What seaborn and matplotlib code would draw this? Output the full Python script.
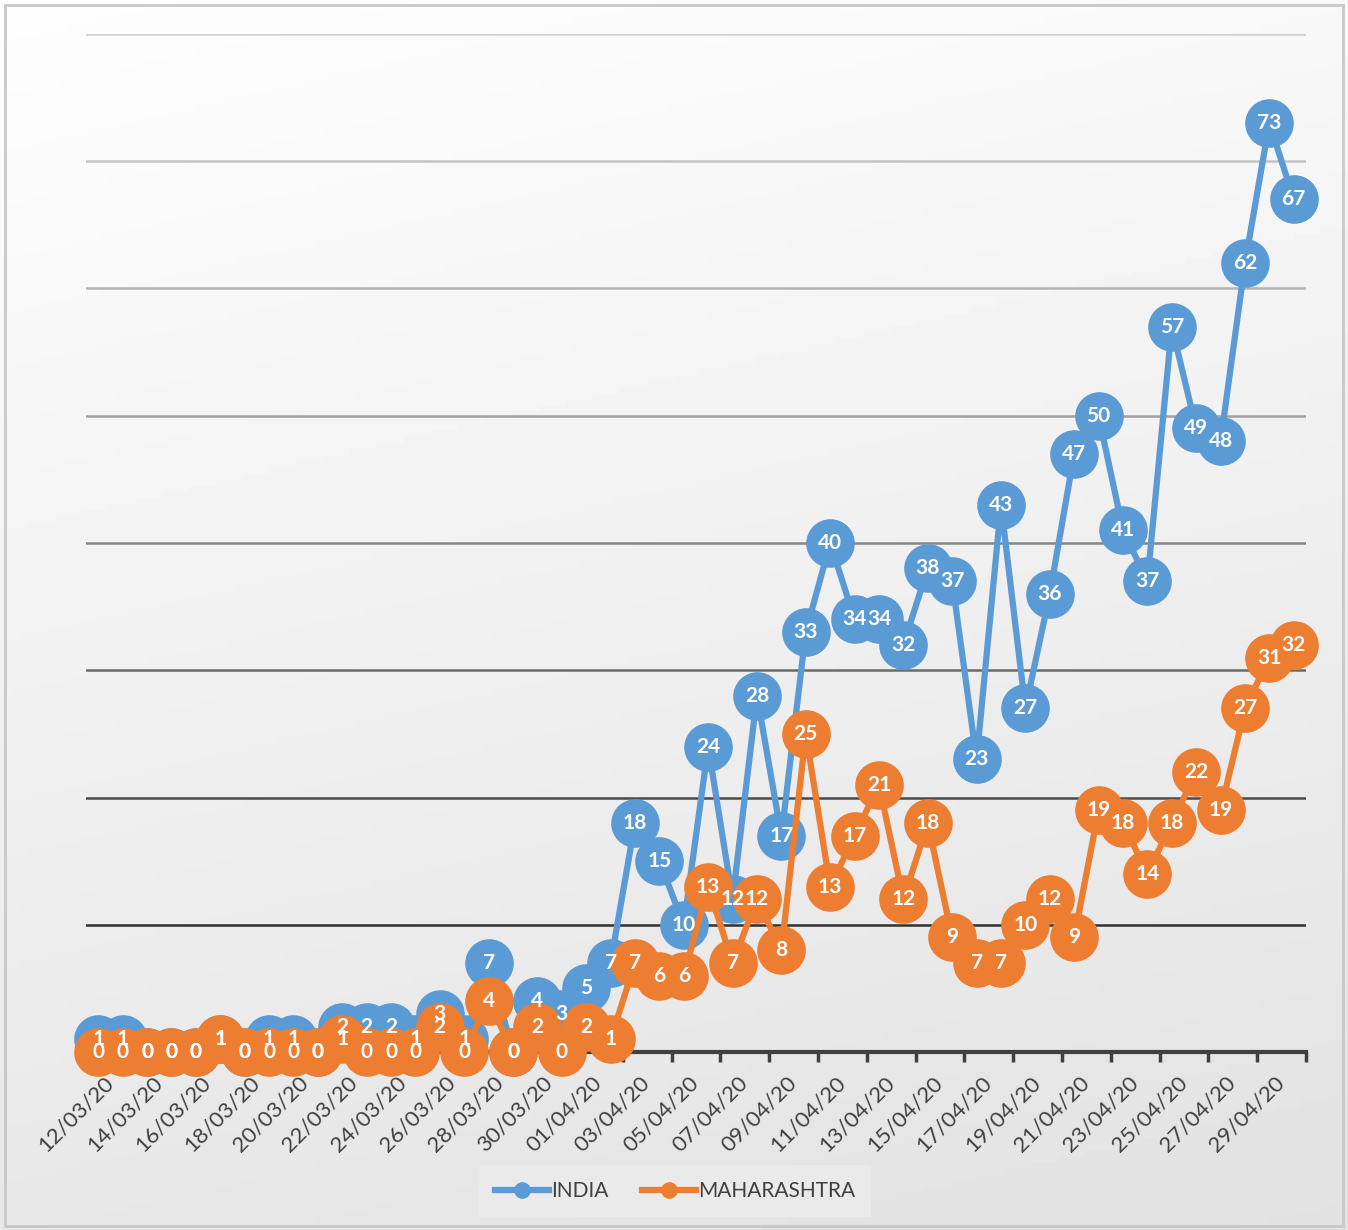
import numpy as np
import pandas as pd
import seaborn as sns
import matplotlib
matplotlib.use('Agg')
import matplotlib.pyplot as plt
from matplotlib.lines import Line2D
from matplotlib.transforms import ScaledTranslation

plt.rcParams['font.family'] = ['Lato', 'DejaVu Sans']

# --- data: daily deaths, 12/03/20 to 30/04/20 ---
dates = pd.date_range('2020-03-12', '2020-04-30').strftime('%d/%m/%y').tolist()
india = [1, 1, 0, 0, 0, 1, 0, 1, 1, 0,
         2, 2, 2, 1, 3, 1, 7, 0, 4, 3,
         5, 7, 18, 15, 10, 24, 12, 28, 17, 33,
         40, 34, 34, 32, 38, 37, 23, 43, 27, 36,
         47, 50, 41, 37, 57, 49, 48, 62, 73, 67]
maharashtra = [0, 0, 0, 0, 0, 1, 0, 0, 0, 0,
               1, 0, 0, 0, 2, 0, 4, 0, 2, 0,
               2, 1, 7, 6, 6, 13, 7, 12, 8, 25,
               13, 17, 21, 12, 18, 9, 7, 7, 10, 12,
               9, 19, 18, 14, 18, 22, 19, 27, 31, 32]
series_names = ['INDIA', 'MAHARASHTRA']
colors = ['#5b9bd5', '#ed7d31']

df = pd.DataFrame({'pos': np.arange(len(dates)), 'date': dates,
                   'INDIA': india, 'MAHARASHTRA': maharashtra})

fig = plt.figure(figsize=(13.48, 12.30), dpi=100)

# gradient background + thin border
bg = fig.add_axes([0, 0, 1, 1], zorder=-5)
yy, xx = np.mgrid[0:1:200j, 0:1:200j]
grad = 0.995 - 0.11 * (0.8 * yy + 0.2 * xx)
bg.imshow(grad, cmap='gray', vmin=0, vmax=1, aspect='auto', extent=(0, 1, 0, 1), origin='upper')
bg.add_patch(plt.Rectangle((0.004, 0.003), 0.992, 0.993, fill=False, edgecolor='#c8c8c8', lw=2))
bg.set_axis_off()

ax = fig.add_axes([86 / 1348, 1 - 1052 / 1230, 1220 / 1348, 1018 / 1230])
ax.set_facecolor('none')

# gridlines with darkening tone towards the bottom
grid_cols = ['#303030', '#4a4a4a', '#6a6a6a', '#868686', '#a0a0a0', '#b4b4b4', '#c4c4c4', '#d0d0d0']
for v, c in zip(range(10, 81, 10), grid_cols):
    ax.axhline(v, color=c, lw=1.8, zorder=0)

for name, col in zip(series_names, colors):
    sns.lineplot(data=df, x='pos', y=name, ax=ax, color=col, linewidth=4.5,
                 marker='o', markersize=35, markeredgewidth=0, clip_on=False, zorder=3)

# data labels on top
for name in series_names:
    for x, v in zip(df['pos'], df[name]):
        ax.text(x, v, str(v), ha='center', va='center', color='white',
                fontsize=15, fontweight='bold', zorder=10, clip_on=False)

ax.set_xlim(-0.5, len(dates) - 0.5)
ax.set_ylim(0, 80)
ax.set_xlabel('')
ax.set_ylabel('')
ax.set_yticks([])
for s in ['left', 'right', 'top']:
    ax.spines[s].set_visible(False)
ax.spines['bottom'].set_color('#404040')
ax.spines['bottom'].set_linewidth(3)
ax.spines['bottom'].set_zorder(1)

ax.set_xticks(np.arange(-0.5, len(dates), 2))
ax.set_xticklabels([])
ax.tick_params(axis='x', which='major', length=7, width=2.5, color='#404040', direction='out')
ax.set_xticks(np.arange(0, len(dates), 2), minor=True)
ax.set_xticklabels(dates[::2], minor=True, rotation=45, ha='right', va='center',
                   rotation_mode='anchor', fontsize=16, color='#404040')
ax.tick_params(axis='x', which='minor', length=0, pad=16)
shift = ScaledTranslation(12 / 100, -5 / 100, fig.dpi_scale_trans)
for lab in ax.get_xticklabels(minor=True):
    lab.set_transform(lab.get_transform() + shift)
ax.legend_ = None

handles = [Line2D([0], [0], color=c, lw=4.5, marker='o', markersize=11) for c in colors]
leg = fig.legend(handles, series_names, loc='center', bbox_to_anchor=(675 / 1348, 1 - 1191 / 1230),
                 ncol=2, fontsize=15, frameon=True, facecolor='#ececec', edgecolor='none',
                 fancybox=False, handlelength=2.6, handletextpad=0.1, columnspacing=1.6,
                 borderpad=0.75, labelcolor='#404040')
leg.get_frame().set_alpha(0.8)

fig.savefig('out.png', dpi=100)
